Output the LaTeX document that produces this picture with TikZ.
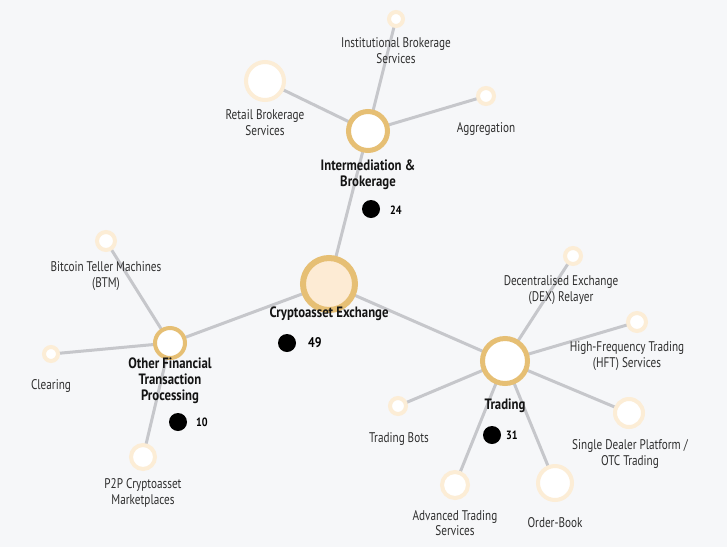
\documentclass[tikz,border=0pt]{standalone}
\usepackage{fontspec}
\setmainfont{PT Sans}[FakeStretch=0.80, BoldFeatures={FakeStretch=0.85}]
\definecolor{bgcol}{HTML}{F6F7F9}
\definecolor{linkcol}{HTML}{C6C7CB}
\definecolor{gold}{HTML}{E6BF74}
\definecolor{cream}{HTML}{FDEBD4}
\definecolor{pale}{HTML}{FCEDD6}
\tikzset{
  link/.style={draw=linkcol, line width=3pt, line cap=round},
  hub/.style={circle, draw=gold, fill=white, inner sep=0pt},
  leaf/.style={circle, draw=pale, line width=4pt, fill=white, inner sep=0pt},
  lbl/.style={align=center, inner sep=0pt, text=black!82, font=\fontsize{14}{15.8}\selectfont},
  hublbl/.style={lbl, text=black!92, font=\fontsize{15}{16}\selectfont\bfseries},
  count/.style={circle, fill=black, minimum size=18pt, inner sep=0pt},
  num/.style={inner sep=0pt, font=\fontsize{12}{12}\selectfont\bfseries}
}
\begin{document}
\begin{tikzpicture}[x=1pt, y=-1pt]
\fill[bgcol] (0,0) rectangle (727,547);
\useasboundingbox (0,0) rectangle (727,547);
\path
(329,284) coordinate (CE)
(368,131) coordinate (IB)
(505,361) coordinate (TR)
(170,343) coordinate (OF)
(396,19) coordinate (inst)
(265,81) coordinate (retail)
(486,96) coordinate (aggr)
(106,241) coordinate (btm)
(51,354) coordinate (clear)
(143,457) coordinate (ptp)
(573,256) coordinate (dex)
(637,322) coordinate (hft)
(629,413) coordinate (sdp)
(555,483) coordinate (book)
(455,485) coordinate (adv)
(398,406) coordinate (bots)
;
% connectors
\draw[link] (CE)--(IB) (CE)--(TR) (CE)--(OF);
\draw[link] (IB)--(inst) (IB)--(retail) (IB)--(aggr);
\draw[link] (OF)--(btm) (OF)--(clear) (OF)--(ptp);
\draw[link] (TR)--(dex) (TR)--(hft) (TR)--(sdp) (TR)--(book) (TR)--(adv) (TR)--(bots);
% hubs
\node[hub, fill=cream, line width=6pt, minimum size=52pt] (CE-c) at (CE) {};
\node[hub, line width=5pt, minimum size=39pt] (IB-c) at (IB) {};
\node[hub, line width=5pt, minimum size=45pt] (TR-c) at (TR) {};
\node[hub, line width=4pt, minimum size=30pt] (OF-c) at (OF) {};
% leaves
\foreach \c/\r in {inst/9, retail/21, aggr/10, btm/11, clear/9, ptp/14, dex/10, hft/11, sdp/16, book/19, adv/15, bots/10}
  \node[leaf, minimum size=2*\r pt-4pt] (\c-c) at (\c) {};
% labels
\node[hublbl] (CE-l) at (329,314) {Cryptoasset Exchange};
\node[hublbl] (IB-l) at (368,175) {Intermediation \&\\Brokerage};
\node[hublbl] (TR-l) at (505,406) {Trading};
\node[hublbl] (OF-l) at (170,381) {Other Financial\\Transaction\\Processing};
\node[lbl] (inst-l) at (396,51) {Institutional Brokerage\\Services};
\node[lbl] (retail-l) at (265,123) {Retail Brokerage\\Services};
\node[lbl] (aggr-l) at (486,129) {Aggregation};
\node[lbl] (btm-l) at (106,276) {Bitcoin Teller Machines\\(BTM)};
\node[lbl] (clear-l) at (51,386) {Clearing};
\node[lbl] (ptp-l) at (143,493) {P2P Cryptoasset\\Marketplaces};
\node[lbl] (dex-l) at (561,290) {Decentralised Exchange\\(DEX) Relayer};
\node[lbl] (hft-l) at (627,356) {High-Frequency Trading\\(HFT) Services};
\node[lbl] (sdp-l) at (630,454) {Single Dealer Platform /\\OTC Trading};
\node[lbl] (book-l) at (555,523) {Order-Book};
\node[lbl] (adv-l) at (455,523) {Advanced Trading\\Services};
\node[lbl] (bots-l) at (399,439) {Trading Bots};
% counts
\node[count] (CE-d) at (287,343) {};
\node[num, font=\fontsize{14}{14}\selectfont\bfseries, anchor=west] (CE-n) at (308,343) {49};
\node[count] (IB-d) at (371,209) {};
\node[num, anchor=west] (IB-n) at (390,210) {24};
\node[count] (TR-d) at (492,435) {};
\node[num, anchor=west] (TR-n) at (506,435) {31};
\node[count] (OF-d) at (178,422) {};
\node[num, anchor=west] (OF-n) at (196,422) {10};
\end{tikzpicture}
\end{document}
